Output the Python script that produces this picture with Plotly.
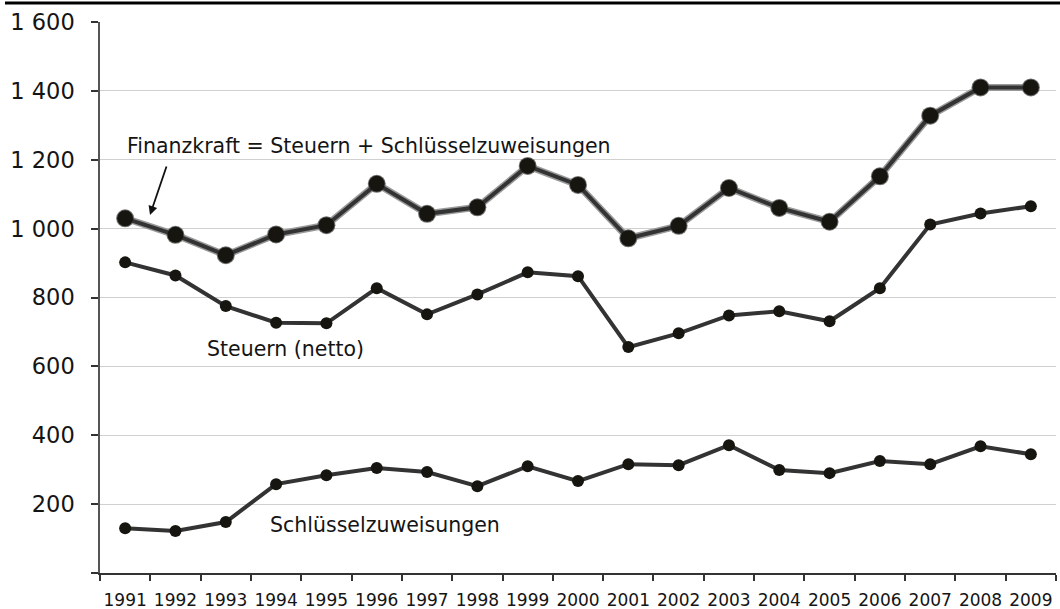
import plotly.graph_objects as go

years = [str(y) for y in range(1991, 2010)]
finanzkraft = [1030, 982, 923, 983, 1010, 1130, 1043, 1062, 1182, 1127, 972, 1008, 1118, 1060, 1020, 1152, 1328, 1410, 1410]
steuern = [902, 864, 775, 727, 725, 827, 751, 809, 873, 862, 656, 696, 748, 760, 731, 827, 1012, 1044, 1065]
schluessel = [130, 122, 148, 258, 284, 305, 293, 252, 310, 267, 316, 313, 371, 299, 290, 325, 316, 368, 345]

y_tickvals = [0, 200, 400, 600, 800, 1000, 1200, 1400, 1600]
y_ticktext = ["", "200", "400", "600", "800", "1 000", "1 200", "1 400", "1 600"]

FONT = "DejaVu Sans"
TXT = "#141414"

fig = go.Figure()

# Finanzkraft: shadow + main
fig.add_trace(go.Scatter(x=years, y=finanzkraft, mode="lines+markers",
                         line=dict(color="#9a9a9a", width=7),
                         marker=dict(size=18, color="#707070"),
                         hoverinfo="skip", showlegend=False))
fig.add_trace(go.Scatter(x=years, y=finanzkraft, mode="lines+markers",
                         line=dict(color="#333333", width=4),
                         marker=dict(size=16, color="#17150f"),
                         name="Finanzkraft", showlegend=False))
fig.add_trace(go.Scatter(x=years, y=steuern, mode="lines+markers",
                         line=dict(color="#333333", width=4),
                         marker=dict(size=12, color="#17150f"),
                         name="Steuern (netto)", showlegend=False))
fig.add_trace(go.Scatter(x=years, y=schluessel, mode="lines+markers",
                         line=dict(color="#333333", width=4),
                         marker=dict(size=12, color="#17150f"),
                         name="Schlüsselzuweisungen", showlegend=False))

fig.update_layout(
    width=1060, height=609,
    margin=dict(l=100, r=4, t=22, b=36),
    paper_bgcolor="white", plot_bgcolor="white",
    font=dict(family=FONT, color=TXT),
    xaxis=dict(type="category", range=[-0.5, 18.5], tickson="boundaries",
               ticks="outside", ticklen=6, tickcolor="#333", tickwidth=1.5,
               showline=True, linecolor="#333", linewidth=1.5,
               showgrid=False, tickfont=dict(size=17, color=TXT),
               ticklabelstandoff=11, tickangle=0, automargin=False),
    yaxis=dict(range=[0, 1600], tickvals=y_tickvals, ticktext=y_ticktext,
               ticks="outside", ticklen=7, tickcolor="#333", tickwidth=1.5,
               showline=True, linecolor="#555", linewidth=1.5,
               showgrid=True, gridcolor="#d0d0d0", gridwidth=1,
               zeroline=False, tickfont=dict(size=22.5, color=TXT),
               ticklabelstandoff=12, automargin=False),
    shapes=[dict(type="line", xref="paper", yref="paper",
                 x0=-0.0994, x1=1.005, y0=1.0345, y1=1.0345,
                 line=dict(color="black", width=3))],
    annotations=[
        dict(text="Finanzkraft = Steuern + Schlüsselzuweisungen", xref="paper", yref="paper",
             x=0.0262, y=0.775, xanchor="left", yanchor="middle", showarrow=False,
             font=dict(size=20.5, color=TXT)),
        dict(text="Steuern (netto)", xref="paper", yref="paper",
             x=0.1098, y=0.4065, xanchor="left", yanchor="middle", showarrow=False,
             font=dict(size=20.5, color=TXT)),
        dict(text="Schlüsselzuweisungen", xref="paper", yref="paper",
             x=0.1757, y=0.0871, xanchor="left", yanchor="middle", showarrow=False,
             font=dict(size=20.5, color=TXT)),
        dict(text="", xref="paper", yref="paper", x=0.0523, y=0.6497,
             showarrow=True, ax=17, ay=-50, arrowhead=2, arrowsize=1,
             arrowwidth=1.8, arrowcolor="#111"),
    ],
)

fig.write_html("out.html", config={"displayModeBar": False},
               post_script="document.body.style.margin='0';document.body.style.padding='0';")
